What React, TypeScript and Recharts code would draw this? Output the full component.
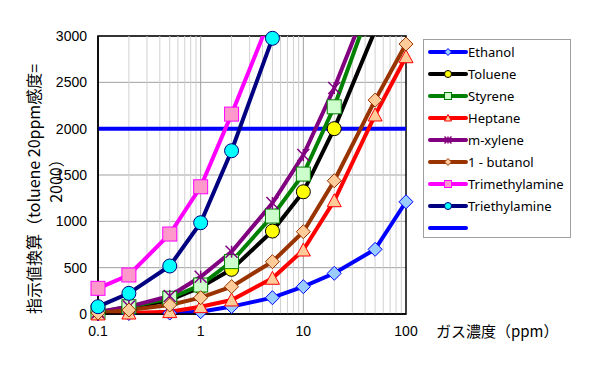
import React from 'react';
import { LineChart, Line, XAxis, YAxis, CartesianGrid, ReferenceLine, ReferenceArea } from 'recharts';

// gas concentration (ppm)
const concentrations = [0.1, 0.2, 0.5, 1, 2, 5, 10, 20, 50, 100];

const ethanol = [0, 5, 10, 25, 80, 176, 295, 439, 698, 1211];
const toluene = [20, 60, 150, 290, 482, 895, 1319, 2000, 3060];
const styrene = [20, 79, 170, 313, 565, 1057, 1510, 2236, 3456];
const heptane = [0, 10, 25, 79, 151, 385, 690, 1222, 2147, 2776];
const mXylene = [20, 80, 194, 402, 672, 1197, 1715, 2438, 3549];
const butanol = [10, 43, 97, 176, 295, 565, 888, 1438, 2308, 2913];
const trimethylamine = [277, 421, 863, 1373, 2157, 3253];
const triethylamine = [79, 223, 518, 985, 1762, 2975];

const baseline = [2000, 2000];
const baselineX = [0.1, 100];

const xTicks = [0.1, 1, 10, 100];
const yTicks = [0, 500, 1000, 1500, 2000, 2500, 3000];
const yMax = 3000;
const minorX = [0.2, 0.3, 0.4, 0.5, 0.6, 0.7, 0.8, 0.9, 2, 3, 4, 5, 6, 7, 8, 9, 20, 30, 40, 50, 60, 70, 80, 90];

type Shape = 'diamond' | 'circle' | 'square' | 'triangle' | 'star' | 'none';

const toPoints = (vals: number[], xs: number[] = concentrations) =>
  vals.map((y, i) => ({ x: xs[i], y }));

const series = [
  { name: 'Ethanol', values: ethanol, color: '#0000FF', fill: '#99CCFF', shape: 'diamond' as Shape },
  { name: 'Toluene', values: toluene, color: '#000000', fill: '#FFFF00', shape: 'circle' as Shape },
  { name: 'Styrene', values: styrene, color: '#008000', fill: '#CCFFCC', shape: 'square' as Shape },
  { name: 'Heptane', values: heptane, color: '#FF0000', fill: '#FFCC99', shape: 'triangle' as Shape },
  { name: 'm-xylene', values: mXylene, color: '#800080', fill: '#800080', shape: 'star' as Shape },
  { name: '1 - butanol', values: butanol, color: '#993300', fill: '#FFCC99', shape: 'diamond' as Shape },
  { name: 'Trimethylamine', values: trimethylamine, color: '#FF00FF', fill: '#FF99CC', shape: 'square' as Shape },
  { name: 'Triethylamine', values: triethylamine, color: '#000080', fill: '#00FFFF', shape: 'circle' as Shape },
];

function Marker({ cx, cy, shape, color, fill, s }: { cx: number; cy: number; shape: Shape; color: string; fill: string; s: number }) {
  if (cx == null || cy == null || shape === 'none') return null;
  if (shape === 'diamond')
    return <polygon points={`${cx},${cy - s} ${cx + s},${cy} ${cx},${cy + s} ${cx - s},${cy}`} fill={fill} stroke={color} strokeWidth={1} />;
  if (shape === 'circle') return <circle cx={cx} cy={cy} r={s} fill={fill} stroke={color} strokeWidth={1} />;
  if (shape === 'square')
    return <rect x={cx - s} y={cy - s} width={2 * s} height={2 * s} fill={fill} stroke={color} strokeWidth={1} />;
  if (shape === 'triangle')
    return <polygon points={`${cx},${cy - s} ${cx + s},${cy + s * 0.85} ${cx - s},${cy + s * 0.85}`} fill={fill} stroke={color} strokeWidth={1} />;
  return (
    <g stroke={color} strokeWidth={1.5}>
      <line x1={cx - s} y1={cy - s} x2={cx + s} y2={cy + s} />
      <line x1={cx - s} y1={cy + s} x2={cx + s} y2={cy - s} />
      <line x1={cx} y1={cy - s} x2={cx} y2={cy + s} />
    </g>
  );
}

function YLabel() {
  const font = '"Noto Sans CJK JP", sans-serif';
  return (
    <g fill="#000" fontFamily={font} fontSize={16}>
      <text x={33} y={189} transform="rotate(-90 33 189)" textAnchor="middle" dominantBaseline="central">
        指示値換算（toluene 20ppm感度=
      </text>
      <text x={55} y={177} transform="rotate(-90 55 177)" textAnchor="middle" dominantBaseline="central">
        2000）
      </text>
    </g>
  );
}

function XLabel() {
  return (
    <text x={436} y={337} fill="#000" fontFamily='"Noto Sans CJK JP", sans-serif' fontSize={15}>
      ガス濃度（ppm）
    </text>
  );
}

function LegendBox() {
  const rows = [...series.map((s) => ({ name: s.name, color: s.color, fill: s.fill, shape: s.shape })), { name: '', color: '#0000FF', fill: '', shape: 'none' as Shape }];
  return (
    <div
      style={{
        position: 'absolute',
        left: 423,
        top: 39,
        width: 148,
        height: 199,
        border: '1px solid #a0a0a0',
        boxSizing: 'border-box',
        paddingTop: 1,
        background: '#fff',
      }}
    >
      {rows.map((r, i) => (
        <div key={i} style={{ height: 22, display: 'flex', alignItems: 'center' }}>
          <svg width={44} height={14} style={{ display: 'block' }}>
            <line x1={6} y1={7} x2={42} y2={7} stroke={r.color} strokeWidth={4} strokeLinecap="round" />
            <Marker cx={24} cy={7} shape={r.shape} color={r.color} fill={r.fill} s={3.5} />
          </svg>
          <span style={{ fontFamily: '"Noto Sans", sans-serif', fontSize: 13, color: '#000', lineHeight: '14px' }}>{r.name}</span>
        </div>
      ))}
    </div>
  );
}

export default function App() {
  return (
    <div style={{ position: 'absolute', left: 0, top: 0, width: 590, height: 365, background: '#fff' }}>
      <LineChart width={590} height={365} margin={{ top: 36, right: 184, left: 0, bottom: 21 }}>
        <CartesianGrid vertical={false} stroke="#a0a0a0" strokeWidth={1} />
        {minorX.map((v) => (
          <ReferenceLine key={v} x={v} stroke="#d0d0d0" strokeWidth={1} />
        ))}
        <ReferenceLine x={1} stroke="#a0a0a0" strokeWidth={1} />
        <ReferenceLine x={10} stroke="#a0a0a0" strokeWidth={1} />
        <XAxis
          type="number"
          dataKey="x"
          scale="log"
          domain={[0.1, 100]}
          ticks={xTicks}
          height={30}
          tickLine={false}
          tickMargin={6}
          axisLine={{ stroke: '#000', strokeWidth: 1.5 }}
          tick={{ fill: '#000', fontSize: 14, fontFamily: '"Liberation Sans", Arial, sans-serif' }}
          tickFormatter={(v: number) => String(v)}
          label={<XLabel />}
        />
        <YAxis
          type="number"
          domain={[0, yMax]}
          ticks={yTicks}
          allowDataOverflow
          width={98}
          tickLine={false}
          tickMargin={5}
          axisLine={{ stroke: '#000', strokeWidth: 1.5 }}
          tick={{ fill: '#000', fontSize: 14, fontFamily: '"Liberation Sans", Arial, sans-serif' }}
          label={<YLabel />}
        />
        {/* hidden twin axis so the markers are not clipped at the plot edge */}
        <YAxis yAxisId="dots" type="number" domain={[0, yMax]} ticks={yTicks} hide />
        <ReferenceArea x1={0.1} x2={100} y1={0} y2={yMax} fill="none" stroke="#000" strokeWidth={1.5} />
        <Line
          data={toPoints(baseline, baselineX)}
          dataKey="y"
          name="2000"
          stroke="#0000FF"
          strokeWidth={4}
          dot={false}
          activeDot={false}
          isAnimationActive={false}
        />
        {series.flatMap((s) => [
          <Line
            key={s.name}
            data={toPoints(s.values)}
            dataKey="y"
            name={s.name}
            type="linear"
            stroke={s.color}
            strokeWidth={4}
            isAnimationActive={false}
            activeDot={false}
            dot={false}
          />,
          <Line
            key={s.name + '-dots'}
            yAxisId="dots"
            data={toPoints(s.values).filter((p) => p.y <= yMax)}
            dataKey="y"
            name={s.name + ' markers'}
            stroke="none"
            isAnimationActive={false}
            activeDot={false}
            legendType="none"
            dot={(p: any) => (
              <Marker key={`${s.name}-${p.index}`} cx={p.cx} cy={p.cy} shape={s.shape} color={s.color} fill={s.fill} s={s.shape === 'star' ? 6 : 7} />
            )}
          />,
        ])}
      </LineChart>
      <LegendBox />
    </div>
  );
}
